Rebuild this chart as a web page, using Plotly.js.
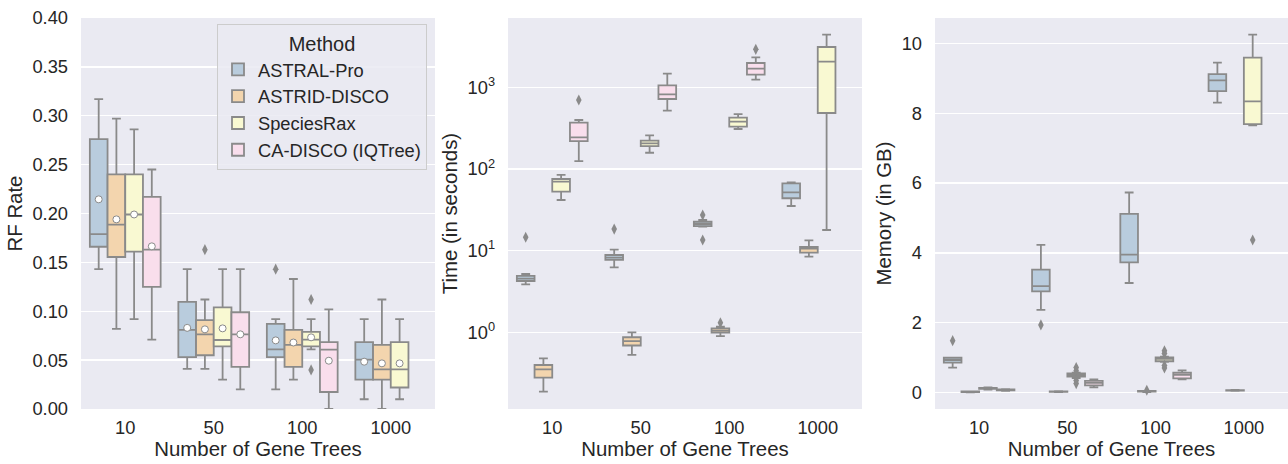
<!DOCTYPE html>
<html><head><meta charset="utf-8">
<script src="https://cdn.plot.ly/plotly-3.0.1.min.js"></script>
<style>body{margin:0;background:#fff}</style>
</head><body><div id="chart" style="width:1288px;height:464px"></div>
<script>
// ---------- data ----------
const categories = ['10', '50', '100', '1000'];
const methods = ['ASTRAL-Pro', 'ASTRID-DISCO', 'SpeciesRax', 'CA-DISCO (IQTree)'];
const methodColors = ['#b9ccdd', '#f3d5ae', '#f9f9d2', '#f9deec'];

// five-number summaries per category: [lower whisker, Q1, median, Q3, upper whisker]
const rfAstralPro  = [[0.143,0.166,0.179,0.276,0.317],[0.041,0.053,0.081,0.1095,0.143],[0.020,0.053,0.061,0.087,0.092],[0.010,0.030,0.0505,0.0685,0.092]];
const rfAstridDisco= [[0.082,0.1555,0.1886,0.240,0.297],[0.041,0.055,0.0764,0.091,0.112],[0.030,0.043,0.0655,0.081,0.133],[0.0,0.030,0.0406,0.0655,0.112]];
const rfSpeciesRax = [[0.092,0.161,0.199,0.240,0.286],[0.030,0.064,0.0706,0.104,0.143],[0.061,0.064,0.071,0.079,0.092],[0.010,0.022,0.0406,0.0685,0.092]];
const rfCaDisco    = [[0.071,0.125,0.163,0.217,0.245],[0.020,0.043,0.0764,0.099,0.143],[0.0,0.0174,0.0607,0.0685,0.102],null];
const rfMeans = [[0.2145,0.083,0.0702,0.0484],[0.194,0.0815,0.068,0.0467],[0.199,0.0825,0.0733,0.0467],[0.1664,0.0764,0.0494,null]];
const rfOutliers = [[[],[],[0.143],[]],[[],[0.163],[],[]],[[],[],[0.112,0.040],[]],[[],[],[],[]]];

const timeAstralPro  = [[3.87,4.25,4.54,4.9,5.18],[6.25,7.69,8.2,8.85,10.3],[19.7,20.0,21.2,22.6,23.8],[35.2,43.8,51.8,66.7,68.7]];
const timeAstridDisco= [[0.188,0.279,0.352,0.398,0.48],[0.53,0.69,0.78,0.87,1.0],[0.90,0.99,1.05,1.12,1.17],[8.45,9.46,10.6,11.1,13.4]];
const timeSpeciesRax = [[41.7,52.8,70,75.4,84.5],[158,191,206,222,258],[309,330,380,425,471],[17.9,485,2063,3120,4415]];
const timeCaDisco    = [[125,220,244,369,398],[518,720,820,1057,1470],[1241,1430,1693,1985,2330],null];
const timeOutliers = [[[14.6],[18.4],[27.3,13.5],[]],[[],[],[1.31],[]],[[],[],[],[]],[[700],[],[2920],[]]];

const memAstralPro  = [[0.716,0.86,0.936,1.0,1.0],[2.37,2.9,3.05,3.52,4.23],[3.14,3.73,3.95,5.12,5.73],[8.3,8.63,8.94,9.12,9.45]];
const memAstridDisco= [[0.01,0.02,0.025,0.035,0.04],[0.02,0.025,0.03,0.04,0.045],[0.02,0.03,0.04,0.05,0.05],[0.05,0.06,0.065,0.075,0.08]];
const memSpeciesRax = [[0.09,0.11,0.12,0.14,0.15],[0.42,0.46,0.5,0.55,0.57],[0.88,0.9,0.965,1.01,1.03],[7.65,7.69,8.34,9.59,10.25]];
const memCaDisco    = [[0.05,0.065,0.08,0.095,0.1],[0.15,0.21,0.28,0.34,0.38],[0.38,0.41,0.51,0.57,0.64],null];
const memOutliers = [[[1.49],[1.94],[],[]],[[],[],[0.07],[]],[[],[0.72,0.63,0.35,0.26],[1.2,1.12,0.78,0.71],[4.37]],[[],[],[],[]]];

const timeTickVals = [1, 10, 100, 1000];
const timeTickText = ['10<sup>0</sup>', '10<sup>1</sup>', '10<sup>2</sup>', '10<sup>3</sup>'];

// ---------- styling ----------
const LINE = '#8a8a8a';
const TEXT = '#262626';
const FONT = 'Liberation Sans, Arial, sans-serif';
const BOXW = 0.2;
const offsetFor = m => -0.3 + 0.2 * m;

const traces = [];
function addPanel(statsList, meansList, outlierList, xa, ya, legend) {
  statsList.forEach((stats, m) => {
    const xs = [], lo = [], q1 = [], med = [], q3 = [], hi = [];
    stats.forEach((s, c) => {
      if (!s) return;
      xs.push(c + offsetFor(m));
      lo.push(s[0]); q1.push(s[1]); med.push(s[2]); q3.push(s[3]); hi.push(s[4]);
    });
    traces.push({
      type: 'box', name: methods[m], x: xs, q1: q1, median: med, q3: q3,
      lowerfence: lo, upperfence: hi, width: BOXW, whiskerwidth: 0.5,
      fillcolor: methodColors[m], line: {color: LINE, width: 1.8},
      boxpoints: false, xaxis: xa, yaxis: ya, showlegend: legend,
      legendgroup: methods[m], hoverinfo: 'y'
    });
    const ox = [], oy = [];
    outlierList[m].forEach((vals, c) => vals.forEach(v => { ox.push(c + offsetFor(m)); oy.push(v); }));
    if (ox.length) traces.push({
      type: 'scatter', mode: 'markers', x: ox, y: oy, xaxis: xa, yaxis: ya,
      showlegend: false, hoverinfo: 'y',
      marker: {symbol: 'diamond-tall', size: 8, color: LINE, line: {width: 0}}
    });
    if (meansList) {
      const mx = [], my = [];
      meansList[m].forEach((v, c) => { if (v !== null) { mx.push(c + offsetFor(m)); my.push(v); } });
      traces.push({
        type: 'scatter', mode: 'markers', x: mx, y: my, xaxis: xa, yaxis: ya,
        showlegend: false, hoverinfo: 'y',
        marker: {symbol: 'circle', size: 7, color: '#ffffff', line: {color: LINE, width: 1}}
      });
    }
  });
}
addPanel([rfAstralPro, rfAstridDisco, rfSpeciesRax, rfCaDisco], rfMeans, rfOutliers, 'x', 'y', true);
addPanel([timeAstralPro, timeAstridDisco, timeSpeciesRax, timeCaDisco], null, timeOutliers, 'x2', 'y2', false);
addPanel([memAstralPro, memAstridDisco, memSpeciesRax, memCaDisco], null, memOutliers, 'x3', 'y3', false);

const W = 1288, H = 464, L = 81, T = 18, B = 55, PW = W - L, PH = H - T - B;
const dom = (a, b) => [(a - L) / PW, Math.min(1, (b - L) / PW)];
const tickFont = {family: FONT, size: 18.3, color: TEXT};
const titleFont = {family: FONT, size: 20.4, color: TEXT};
function xAxis(a, b, anchor) {
  return {
    domain: dom(a, b), anchor: anchor, range: [-0.5, 3.5],
    tickvals: [0, 1, 2, 3], ticktext: categories, showgrid: false, zeroline: false,
    ticks: '', ticklabelstandoff: 6, tickfont: tickFont, fixedrange: true, automargin: false,
    title: {text: 'Number of Gene Trees', font: titleFont, standoff: 4}
  };
}
function yBase(anchor, title) {
  return {
    anchor: anchor, domain: [0, 1], gridcolor: '#ffffff', gridwidth: 1.3,
    zeroline: false, ticks: '', ticklabelstandoff: 12, tickfont: tickFont, automargin: false,
    title: {text: title, font: titleFont, standoff: 4}, fixedrange: true
  };
}

const layout = {
  width: W, height: H,
  margin: {l: L, r: 0, t: T, b: B},
  paper_bgcolor: '#ffffff', plot_bgcolor: '#eaeaf2',
  font: {family: FONT, color: TEXT},
  showlegend: true,
  xaxis: xAxis(81, 435, 'y'),
  xaxis2: xAxis(508, 862, 'y2'),
  xaxis3: xAxis(935, 1289, 'y3'),
  yaxis: Object.assign(yBase('x', 'RF Rate'), {range: [0, 0.40], dtick: 0.05, tickformat: '.2f'}),
  yaxis2: Object.assign(yBase('x2', 'Time (in seconds)'), {type: 'log', range: [-0.939, 3.849], tickvals: timeTickVals, ticktext: timeTickText}),
  yaxis3: Object.assign(yBase('x3', 'Memory (in GB)'), {range: [-0.467, 10.725], dtick: 2}),
  legend: {
    x: (427 - L) / PW, xref: 'paper', xanchor: 'right', y: 1 - (24 - T) / PH, yref: 'paper', yanchor: 'top',
    bgcolor: 'rgba(234,234,242,0.85)', bordercolor: '#cccccc', borderwidth: 1,
    font: {family: FONT, size: 18.3, color: TEXT}, tracegroupgap: 0,
    title: {text: 'Method', side: 'top center', font: {family: FONT, size: 20, color: TEXT}}
  },
  hovermode: false
};

Plotly.newPlot('chart', traces, layout, {displayModeBar: false, staticPlot: true});
</script>
</body></html>
